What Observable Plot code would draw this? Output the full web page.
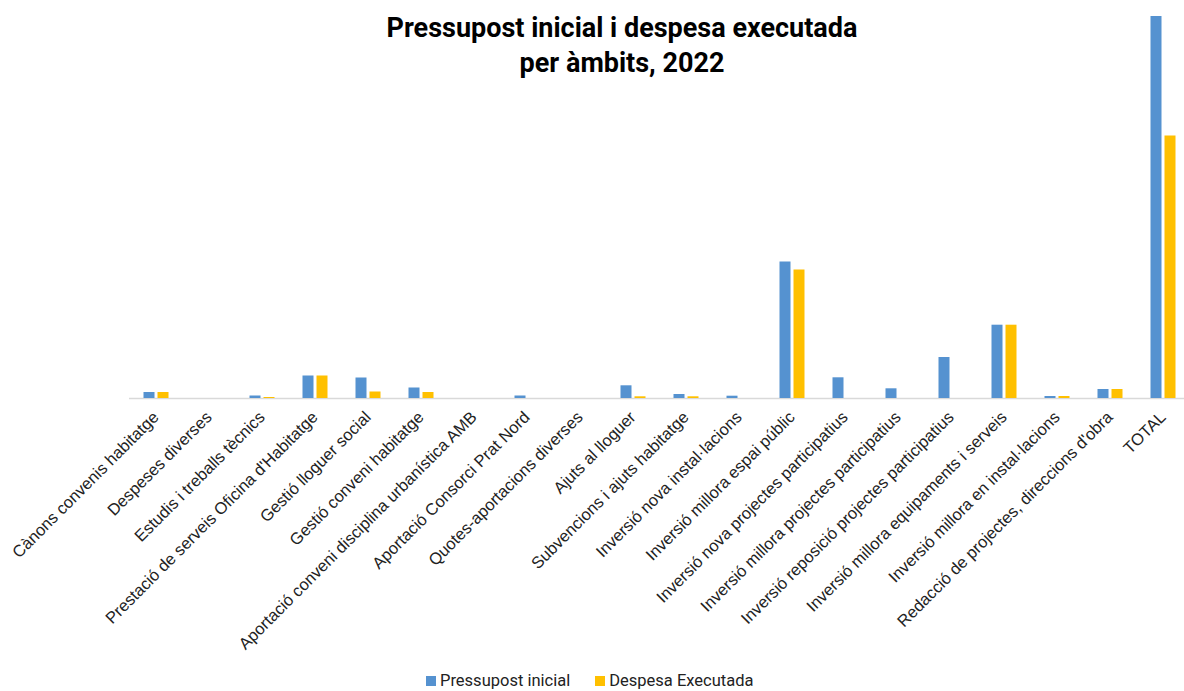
<!DOCTYPE html>
<html>
<head>
<meta charset="utf-8">
<script src="https://cdn.jsdelivr.net/npm/d3@7"></script>
<script src="https://cdn.jsdelivr.net/npm/@observablehq/plot@0.6"></script>
<style>
  body { margin: 0; background: #fff; }
  #wrap { position: relative; width: 1184px; height: 691px; overflow: hidden; }
  #title { position: absolute; top: 11px; left: 322px; width: 600px; text-align: center;
           font-family: Roboto, sans-serif; font-weight: bold; font-size: 27px; line-height: 35px; color: #000; }
  #chart { position: absolute; top: 0; left: 0; }
  #legend { position: absolute; top: 671px; left: 426px; display: flex; align-items: center;
            font-family: Roboto, sans-serif; font-size: 16.5px; line-height: 20px; color: #222; }
  .sw { width: 10px; height: 10px; display: inline-block; margin-right: 4px; }
  .item { display: flex; align-items: center; margin-right: 25px; }
</style>
</head>
<body>
<div id="wrap">
  <div id="chart"></div>
  <div id="title">Pressupost inicial i despesa executada<br>per àmbits, 2022</div>
  <div id="legend"></div>
</div>
<script>
const categories = [
  "Cànons convenis habitatge",
  "Despeses diverses",
  "Estudis i treballs tècnics",
  "Prestació de serveis Oficina d'Habitatge",
  "Gestió lloguer social",
  "Gestió conveni habitatge",
  "Aportació conveni disciplina urbanística AMB",
  "Aportació Consorci Prat Nord",
  "Quotes-aportacions diverses",
  "Ajuts al lloguer",
  "Subvencions i ajuts habitatge",
  "Inversió nova instal·lacions",
  "Inversió millora espai públic",
  "Inversió nova projectes participatius",
  "Inversió millora projectes participatius",
  "Inversió reposició projectes participatius",
  "Inversió millora equipaments i serveis",
  "Inversió millora en instal·lacions",
  "Redacció de projectes, direccions d'obra",
  "TOTAL"
];
const series = ["Pressupost inicial", "Despesa Executada"];
const pressupostInicial = [6, 0, 2.5, 22.5, 20.5, 10.5, 0, 2.5, 0, 12.7, 4, 2.3, 136.5, 20.7, 9.7, 41, 73.3, 2, 9, 382];
const despesaExecutada  = [6, 0, 1, 22.5, 6.5, 6, 0, 0, 0, 1.7, 1.7, 0, 128.5, 0, 0, 0, 73.3, 2, 9, 262.5];
const colors = ["#5592D0", "#FFC000"];

const data = categories.flatMap((c, i) => [
  {cat: c, serie: series[0], value: pressupostInicial[i]},
  {cat: c, serie: series[1], value: despesaExecutada[i]}
]);

const chart = Plot.plot({
  width: 1184,
  height: 670,
  marginTop: 16,
  marginBottom: 272,
  marginLeft: 128.5,
  marginRight: -5,
  style: {fontFamily: "'Liberation Sans', Arial, sans-serif", fontSize: "16.5px", color: "#222", background: "transparent", overflow: "visible"},
  fx: {domain: categories, padding: 0, label: null},
  x: {domain: series, paddingInner: 0.22, paddingOuter: 0.877, axis: null},
  y: {domain: [0, 382], axis: null},
  color: {domain: series, range: colors},
  marks: [
    Plot.ruleY([0], {stroke: "#d9d9d9", strokeWidth: 1.5}),
    Plot.barY(data, {fx: "cat", x: "serie", y: "value", fill: "serie"}),
    Plot.axisFx({anchor: "bottom", tickRotate: -45, tickSize: 0, tickPadding: 16, label: null})
  ]
});
document.getElementById("chart").appendChild(chart);

const legend = document.getElementById("legend");
series.forEach((s, i) => {
  const item = document.createElement("div");
  item.className = "item";
  const sw = document.createElement("span");
  sw.className = "sw";
  sw.style.background = colors[i];
  item.appendChild(sw);
  item.appendChild(document.createTextNode(s));
  legend.appendChild(item);
});
</script>
</body>
</html>
